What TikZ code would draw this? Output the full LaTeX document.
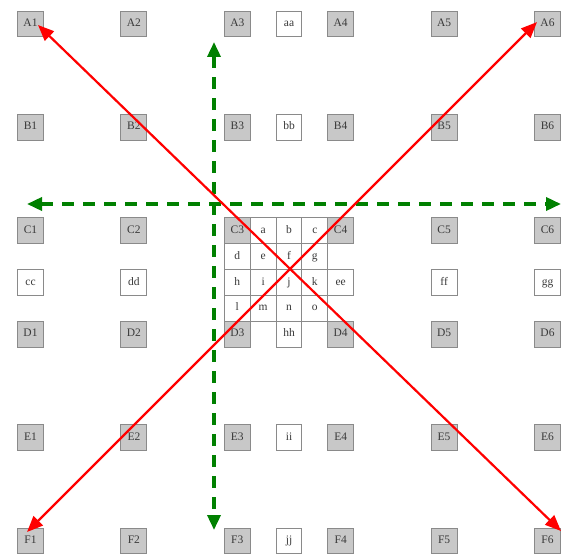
\documentclass[tikz,border=0pt]{standalone}
\usepackage{fontspec}
\setmainfont{Liberation Serif}
\usetikzlibrary{arrows.meta}
\definecolor{boxline}{HTML}{8A8A8A}
\definecolor{boxgrey}{HTML}{C8C8C8}
\definecolor{txt}{HTML}{3A3A3A}
\definecolor{arrred}{HTML}{FF0000}
\definecolor{arrgreen}{HTML}{008000}
\tikzset{
  cell/.style={draw=boxline, line width=1pt, minimum size=25.85pt, inner sep=0pt,
    text height=7.6pt, text depth=2.4pt,
    text=txt, font=\fontsize{11.5}{11.5}\selectfont},
  greycell/.style={cell, fill=boxgrey},
  whitecell/.style={cell, fill=white},
  redarrow/.style={draw=arrred, line width=2.2pt, {Triangle[length=16pt,width=13pt]}-{Triangle[length=16pt,width=13pt]}},
  greenarrow/.style={draw=arrgreen, line width=3.5pt, dash pattern=on 12pt off 9pt, {Triangle[length=15pt,width=13pt]}-{Triangle[length=15pt,width=13pt]}}
}
\begin{document}
\begin{tikzpicture}[x=1pt,y=-1pt]
\useasboundingbox (0,0) rectangle (562,559);
\def\s{25.85}
% grey boxes
\foreach \r/\rl in {0/A,4/B,8/C,12/D,16/E,20/F}{
  \foreach \c/\cl in {0/1,4/2,8/3,12/4,16/5,20/6}{
    \node[greycell] (\rl\cl) at ({30.5+\s*\c},{24+\s*\r}) {\rl\cl};
  }
}
% white boxes
\foreach \nm/\c/\r in {aa/10/0, bb/10/4, a/9/8, b/10/8, c/11/8, d/8/9, e/9/9, f/10/9, g/11/9,
  cc/0/10, dd/4/10, h/8/10, i/9/10, j/10/10, k/11/10, ee/12/10, ff/16/10, gg/20/10,
  l/8/11, m/9/11, n/10/11, o/11/11, hh/10/12, ii/10/16, jj/10/20}{
  \node[whitecell] (\nm) at ({30.5+\s*\c},{24+\s*\r}) {\nm};
}
% arrow end points
\coordinate (gL) at (27,204);
\coordinate (gR) at (561,204);
\coordinate (gT) at (214,42);
\coordinate (gB) at (214,530);
\coordinate (rA1) at (38,25);
\coordinate (rF6) at (561,531);
\coordinate (rF1) at (27,532);
\coordinate (rA6) at (537,22);
\draw[greenarrow] (gL) -- (gR);
\draw[greenarrow] (gT) -- (gB);
\draw[redarrow] (rA1) -- (rF6);
\draw[redarrow] (rF1) -- (rA6);
\end{tikzpicture}
\end{document}
